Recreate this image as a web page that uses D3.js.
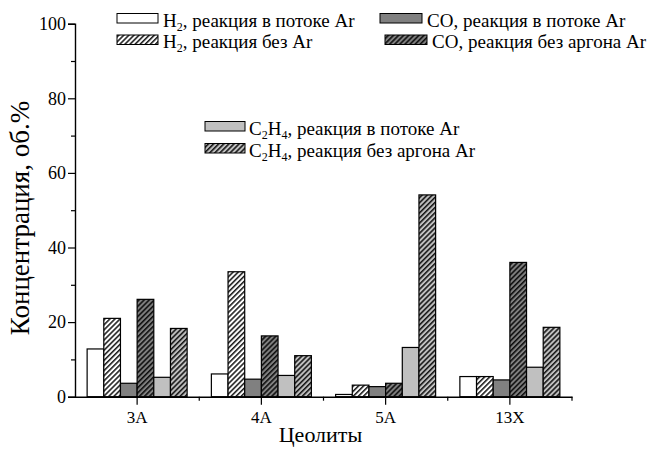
<!DOCTYPE html>
<html><head><meta charset="utf-8">
<script src="https://cdn.jsdelivr.net/npm/d3@7"></script>
<style>body{margin:0;background:#fff}svg{display:block}</style>
</head><body><svg id="c" width="653" height="449"></svg>
<script>
const categories = ["3A","4A","5A","13X"];
const h2Flow   = [12.8, 6.1, 0.6, 5.4];
const h2NoAr   = [21.0, 33.5, 3.1, 5.4];
const coFlow   = [3.6, 4.7, 2.7, 4.5];
const coNoAr   = [26.1, 16.3, 3.6, 36.0];
const c2h4Flow = [5.2, 5.7, 13.2, 7.9];
const c2h4NoAr = [18.3, 11.0, 54.1, 18.6];
const yTicks = [0,20,40,60,80,100];

const FONT = "Liberation Serif";
const series = [
  {key:"h2f", vals:h2Flow,   fill:"#ffffff", hatch:false, label:["H","2",", реакция в потоке Ar"]},
  {key:"h2n", vals:h2NoAr,   fill:"#ffffff", hatch:true,  label:["H","2",", реакция без Ar"]},
  {key:"cof", vals:coFlow,   fill:"#808080", hatch:false, label:["CO, реакция в потоке Ar"]},
  {key:"con", vals:coNoAr,   fill:"#808080", hatch:true,  label:["CO, реакция без аргона Ar"]},
  {key:"c2f", vals:c2h4Flow, fill:"#c0c0c0", hatch:false, label:["C","2","H","4",", реакция в потоке Ar"]},
  {key:"c2n", vals:c2h4NoAr, fill:"#c0c0c0", hatch:true,  label:["C","2","H","4",", реакция без аргона Ar"]}
];

const svg = d3.select("#c");
const defs = svg.append("defs");
series.filter(s=>s.hatch).forEach(s=>{
  const p = defs.append("pattern").attr("id","p_"+s.key).attr("patternUnits","userSpaceOnUse")
    .attr("width",3.6).attr("height",3.6).attr("patternTransform","rotate(45)");
  p.append("rect").attr("width",3.6).attr("height",3.6).attr("fill",s.fill);
  p.append("line").attr("x1",0.8).attr("y1",0).attr("x2",0.8).attr("y2",3.6).attr("stroke","#000").attr("stroke-width",1.4);
});
const fillOf = s => s.hatch ? `url(#p_${s.key})` : s.fill;

const x0 = 75, x1 = 572, yTop = 23.7, yBot = 396.7;
const x = d3.scaleBand().domain(categories).range([x0, x1]).paddingInner(0).paddingOuter(0);
const y = d3.scaleLinear().domain([0,100]).range([yBot, yTop]);
const groupW = 100;
const xs = d3.scaleBand().domain(series.map(s=>s.key)).range([0, groupW]);

const g = svg.append("g");
categories.forEach((c,i)=>{
  const gx = x(c) + x.bandwidth()/2 - groupW/2;
  series.forEach(s=>{
    g.append("rect").attr("x", gx + xs(s.key)).attr("width", xs.bandwidth())
      .attr("y", y(s.vals[i])).attr("height", yBot - y(s.vals[i]))
      .attr("fill", fillOf(s)).attr("stroke","#000").attr("stroke-width",1.2);
  });
});

// Y axis
const ya = svg.append("g").attr("transform",`translate(${x0},0)`)
  .call(d3.axisLeft(y).tickValues(yTicks).tickSize(7).tickPadding(2).tickFormat(d3.format("d")));
svg.append("g").attr("transform",`translate(${x0},0)`)
  .call(d3.axisLeft(y).tickValues(d3.range(10,100,20)).tickSize(4).tickFormat(""))
  .call(a=>a.select(".domain").remove());
ya.attr("font-family",FONT).attr("font-size",18);
ya.selectAll("text").attr("font-family",FONT).attr("font-size",18).attr("fill","#000");

// X axis
const xa = svg.append("g").attr("transform",`translate(0,${yBot})`)
  .call(d3.axisBottom(x).tickSize(8).tickSizeOuter(0).tickPadding(6));
xa.attr("font-family",FONT).attr("font-size",17);
xa.selectAll("text").attr("font-family",FONT).attr("font-size",17).attr("fill","#000");
const bounds = categories.map(c=>x(c)+x.bandwidth());
xa.selectAll(".minor").data(bounds).enter().append("line").attr("class","minor")
  .attr("x1",d=>d).attr("x2",d=>d).attr("y1",0).attr("y2",4).attr("stroke","#000").attr("stroke-width",1.2);
svg.selectAll(".domain").attr("stroke-width",1.4);
svg.selectAll(".tick line").attr("stroke-width",1.2);

// Axis titles
svg.append("text").attr("x",(x0+x1)/2 - 3).attr("y",442).attr("text-anchor","middle")
  .attr("font-family",FONT).attr("font-size",22).text("Цеолиты");
svg.append("text").attr("transform","translate(29,218) rotate(-90)").attr("text-anchor","middle")
  .attr("font-family",FONT).attr("font-size",27).text("Концентрация, об.%");

// Legend
function legendItem(s, bx, by, bw, tx){
  svg.append("rect").attr("x",bx).attr("y",by).attr("width",bw).attr("height",9.5)
    .attr("fill",fillOf(s)).attr("stroke","#000").attr("stroke-width",1);
  const t = svg.append("text").attr("x",tx).attr("y",by+13).attr("font-family",FONT).attr("font-size",19);
  const parts = s.label;
  if(parts.length===1){ t.text(parts[0]); return; }
  parts.forEach((p,k)=>{
    const isSub = k%2===1 && k<parts.length-1;
    const ts = t.append("tspan").text(p);
    if(isSub){ ts.attr("font-size",12).attr("dy",4); }
    else if(k>0){ ts.attr("dy",-4); }
  });
}
legendItem(series[0],117,13.5,41,163);
legendItem(series[1],117,35,41,163);
legendItem(series[2],380,13.5,42,427);
legendItem(series[3],385,35,42,432);
legendItem(series[4],205,121.5,40,249);
legendItem(series[5],205,143.5,40,249);
</script></body></html>
